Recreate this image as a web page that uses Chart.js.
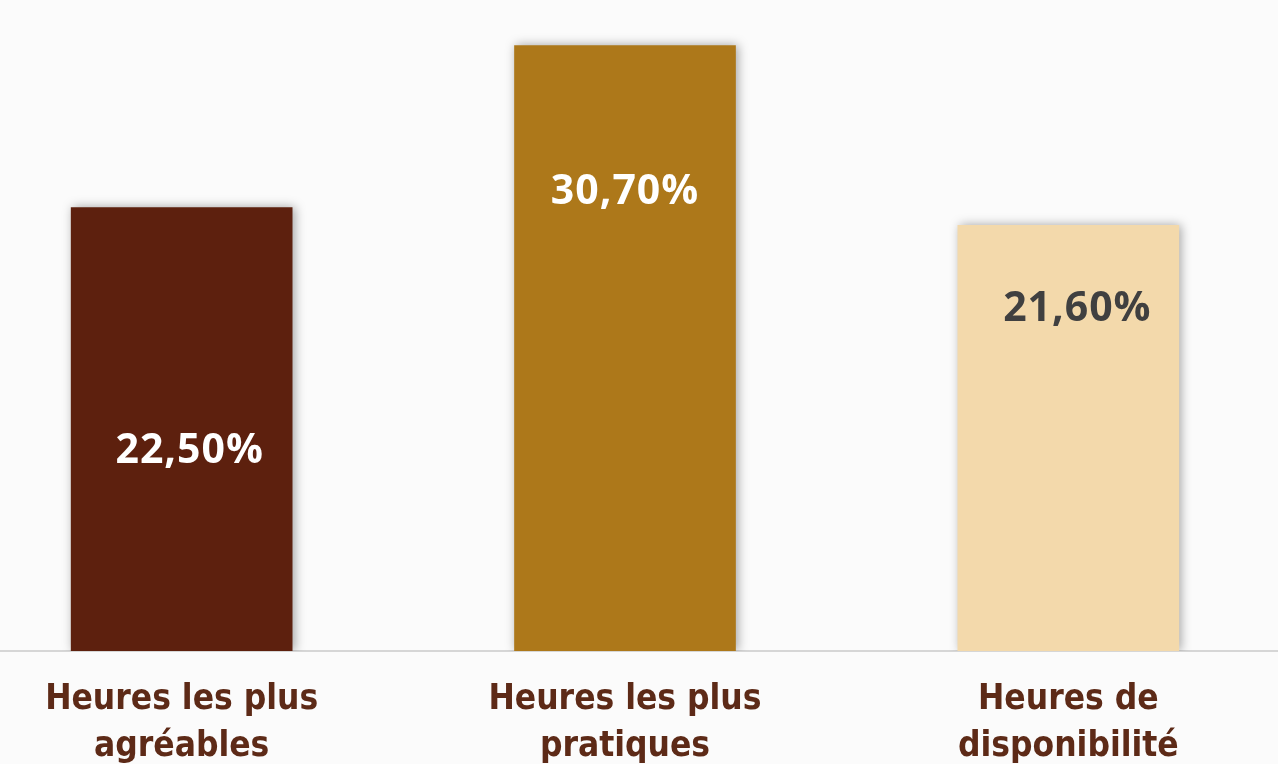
<!DOCTYPE html>
<html>
<head>
<meta charset="utf-8">
<script src="https://cdn.jsdelivr.net/npm/chart.js@4/dist/chart.umd.min.js"></script>
<style>
  html, body { margin:0; padding:0; background:#fbfbfb; overflow:hidden; }
  #wrap { position:absolute; left:-40px; top:0; width:1330px; height:764px; }
</style>
</head>
<body>
<div id="wrap"><canvas id="c"></canvas></div>
<script>
// valeurs
const categories = [
  ['Heures les plus', 'agréables'],
  ['Heures les plus', 'pratiques'],
  ['Heures de', 'disponibilité']
];
const values = [22.5, 30.7, 21.6];
const barColors = ['#5d200e', '#ad781a', '#f3d9ab'];
const labelColors = ['#ffffff', '#ffffff', '#404040'];
// decalage des etiquettes (x, y depuis le haut de la barre)
const labelShift = [[8, 244], [0, 147], [9, 84]];

const fmt = v => v.toFixed(2).replace('.', ',') + '%';

const shadowPlugin = {
  id: 'shadow',
  beforeDatasetsDraw(chart){
    const ctx = chart.ctx;
    ctx.save();
    ctx.shadowColor = 'rgba(0,0,0,0.35)';
    ctx.shadowBlur = 10;
    ctx.shadowOffsetX = 2;
    ctx.shadowOffsetY = 0;
  },
  afterDatasetsDraw(chart){
    chart.ctx.restore();
  }
};

const labelPlugin = {
  id: 'valueLabels',
  afterDatasetsDraw(chart){
    const ctx = chart.ctx;
    const meta = chart.getDatasetMeta(0);
    ctx.save();
    ctx.font = 'bold 41px "Open Sans"';
    ctx.letterSpacing = '1px';
    ctx.textAlign = 'center';
    ctx.textBaseline = 'middle';
    meta.data.forEach((bar, i) => {
      ctx.fillStyle = labelColors[i];
      ctx.fillText(fmt(values[i]), bar.x + labelShift[i][0], bar.y + labelShift[i][1]);
    });
    ctx.restore();
  }
};

new Chart(document.getElementById('c'), {
  type: 'bar',
  data: {
    labels: categories,
    datasets: [{
      data: values,
      backgroundColor: barColors,
      barPercentage: 0.5,
      categoryPercentage: 1
    }]
  },
  options: {
    responsive: true,
    maintainAspectRatio: false,
    animation: false,
    layout: { padding: 0 },
    plugins: { legend: { display: false }, tooltip: { enabled: false } },
    scales: {
      y: { display: false, min: 0, max: 33 },
      x: {
        grid: { display: false },
        border: { display: true, color: '#d6d6d6', width: 2 },
        ticks: {
          color: '#5d2a17',
          font: { family: '"DejaVu Sans Condensed", "DejaVu Sans"', weight: 'bold', size: 35, lineHeight: 1.33 },
          padding: 18,
          maxRotation: 0
        },
        afterFit(scale){ scale.height = 113; }
      }
    }
  },
  plugins: [shadowPlugin, labelPlugin]
});
</script>
</body>
</html>
